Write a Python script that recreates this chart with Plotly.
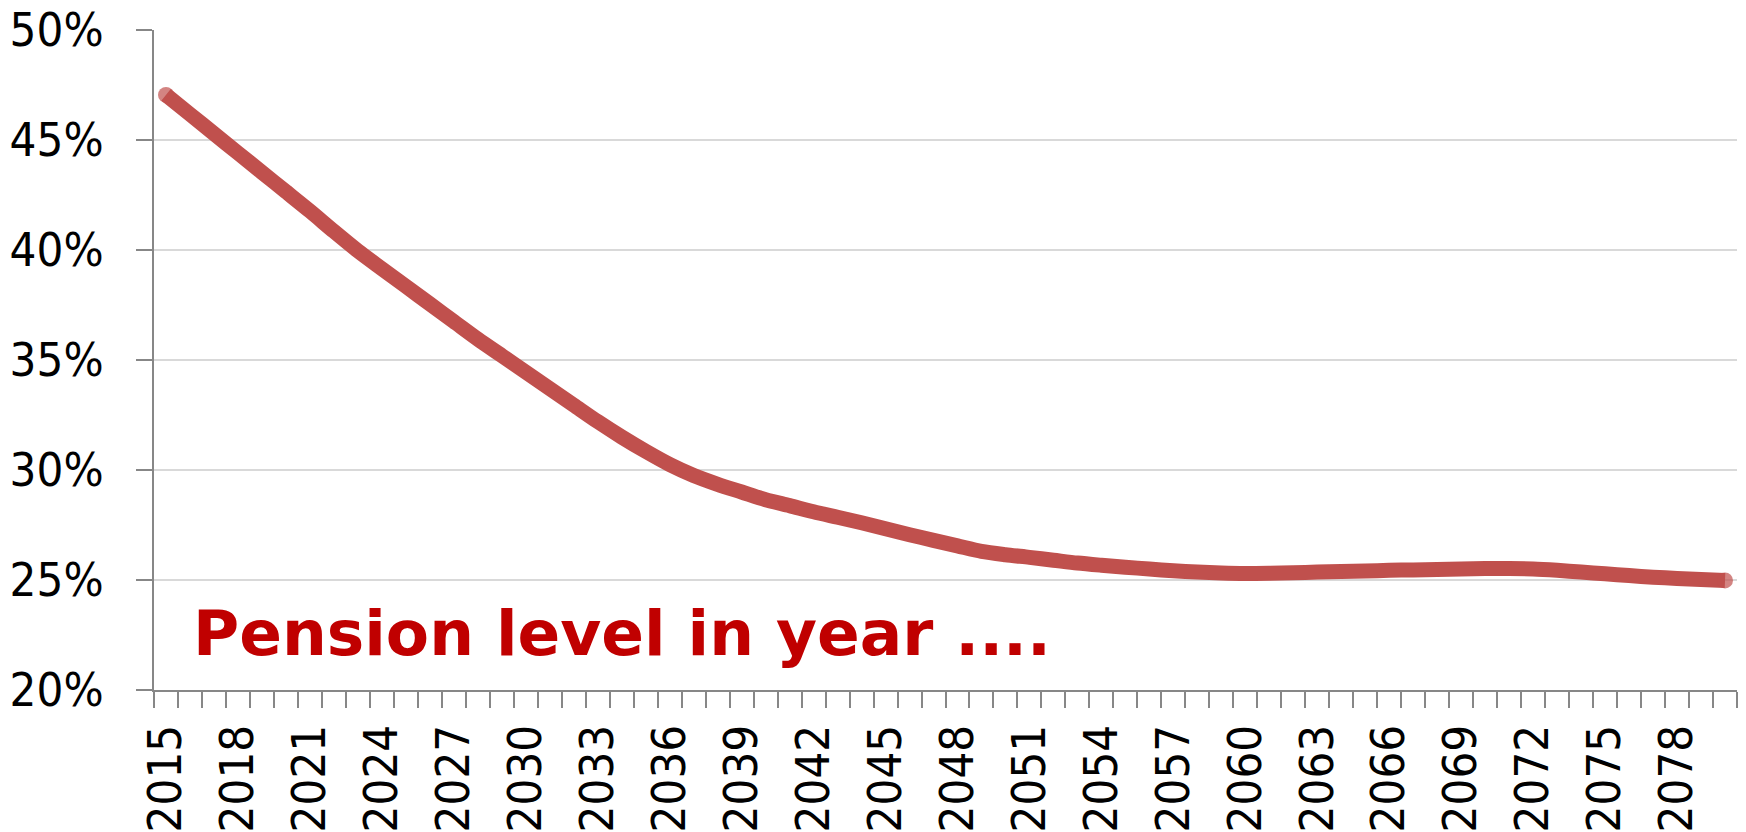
import plotly.graph_objects as go

years = list(range(2015, 2081))
pension_level = [
    47.05, 46.17, 45.29, 44.41, 43.53, 42.65, 41.77, 40.85, 39.96, 39.15,
    38.35, 37.55, 36.75, 35.95, 35.2, 34.45, 33.7, 32.95, 32.2, 31.5,
    30.85, 30.25, 29.75, 29.35, 29.0, 28.65, 28.38, 28.1, 27.85, 27.6,
    27.33, 27.06, 26.8, 26.55, 26.3, 26.15, 26.03, 25.9, 25.77, 25.67,
    25.58, 25.5, 25.42, 25.36, 25.32, 25.3, 25.31, 25.33, 25.36, 25.39,
    25.41, 25.44, 25.46, 25.48, 25.5, 25.52, 25.52, 25.5, 25.44, 25.36,
    25.28, 25.2, 25.13, 25.07, 25.02, 24.98,
]
x_tick_labels = [str(y) for y in range(2015, 2081, 3)]
y_ticks = [20, 25, 30, 35, 40, 45, 50]
title_text = "Pension level in year ...."

line_color = "#C0504D"
axis_color = "#878787"
grid_color = "#D9D9D9"
tick_font = dict(family="DejaVu Sans Condensed, Tahoma, Liberation Sans, sans-serif", size=47, color="#000000")

cap_sizes = [16] + [0] * (len(years) - 2) + [16]

fig = go.Figure()
fig.add_trace(go.Scatter(
    x=years, y=pension_level,
    mode="lines+markers",
    line=dict(color=line_color, width=15, shape="spline", smoothing=0.8),
    marker=dict(size=cap_sizes, color=line_color, line=dict(width=0)),
    showlegend=False, hoverinfo="x+y",
))

fig.update_layout(
    width=1746, height=832,
    margin=dict(l=154, r=9, t=30, b=142),
    paper_bgcolor="white", plot_bgcolor="white",
    showlegend=False,
    annotations=[dict(
        text=title_text, xref="paper", yref="paper",
        x=0.0234, y=0.086, xanchor="left", yanchor="middle",
        showarrow=False,
        font=dict(family="DejaVu Sans", size=63, color="#C00000", weight="bold"),
    )],
)

fig.update_xaxes(
    range=[2014.5, 2080.5],
    automargin=False,
    tickmode="array",
    tickvals=[int(t) for t in x_tick_labels],
    ticktext=x_tick_labels,
    tickangle=-90,
    ticks="",
    ticklabelstandoff=14,
    tickfont=tick_font,
    showgrid=False, zeroline=False,
    showline=True, linecolor=axis_color, linewidth=2,
    minor=dict(tick0=2014.5, dtick=1, ticks="outside", ticklen=16,
               tickcolor=axis_color, tickwidth=2, showgrid=False),
)

fig.update_yaxes(
    range=[20, 50],
    automargin=False,
    tickmode="array",
    tickvals=y_ticks,
    ticktext=[f"{v}%" for v in y_ticks],
    ticks="outside", ticklen=16, tickcolor=axis_color, tickwidth=2,
    ticklabelstandoff=23,
    tickfont=tick_font,
    showgrid=True, gridcolor=grid_color, gridwidth=1.5,
    zeroline=False,
    showline=True, linecolor=axis_color, linewidth=2,
)

fig.write_html("out.html")
